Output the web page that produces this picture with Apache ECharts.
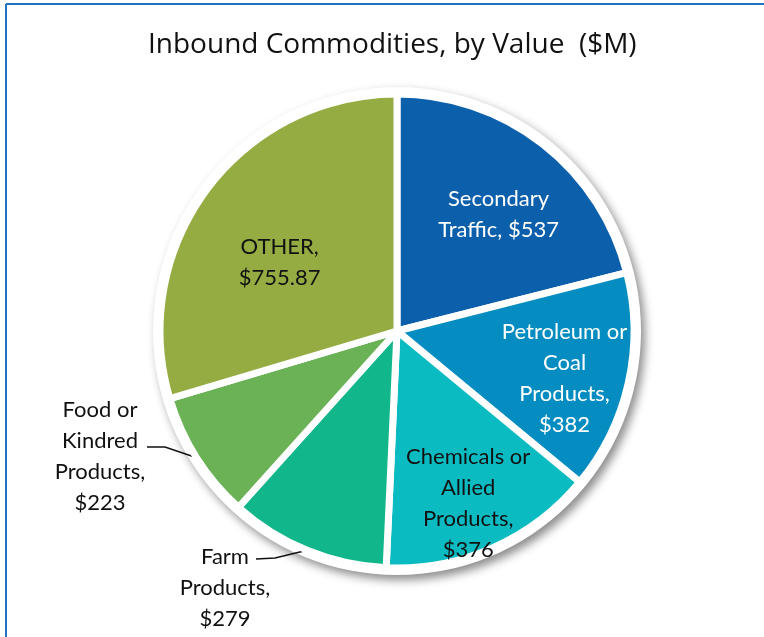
<!DOCTYPE html>
<html>
<head>
<meta charset="utf-8">
<script src="https://cdn.jsdelivr.net/npm/echarts@6/dist/echarts.min.js"></script>
<style>
  html, body { margin: 0; padding: 0; background: #fff; }
  #main { width: 764px; height: 637px; }
</style>
</head>
<body>
<div id="main"></div>
<script>
// commodity names (with the line breaks used in the labels) and values in $M
const categories = ['Secondary\nTraffic', 'Petroleum or\nCoal\nProducts', 'Chemicals or\nAllied\nProducts', 'Farm\nProducts', 'Food or\nKindred\nProducts', 'OTHER'];
const values = [537, 382, 376, 279, 223, 755.87];
const colors = ['#0C5FAB', '#058DC1', '#0ABCC2', '#11B68A', '#6BB257', '#95AC43'];

const total = values.reduce((a, b) => a + b, 0);
const center = [397, 331];
const font = 'Lato, "Open Sans", sans-serif';

// how each slice label is shown
const labelCfg = [
  { color: '#fff', sep: ' ', offset: [27, -21] },
  { color: '#fff', sep: '\n', offset: [49, 21] },
  { color: '#111', sep: '\n', offset: [22, 61] },
  { color: '#111', sep: '\n', outside: true },
  { color: '#111', sep: '\n', outside: true },
  { color: '#111', sep: '\n', offset: [-20, 4] }
];

const chart = echarts.init(document.getElementById('main'));

const data = values.map((v, i) => {
  const c = labelCfg[i];
  const item = {
    name: categories[i],
    value: v,
    itemStyle: { color: colors[i] },
    label: {
      position: c.outside ? 'outside' : 'inside',
      color: c.color
    },
    labelLine: { show: !!c.outside, lineStyle: { color: '#111', width: 1.5 }, length: 10, length2: 20 }
  };
  if (c.offset) item.label.offset = c.offset;
  return item;
});

chart.setOption({
  backgroundColor: '#fff',
  animation: false,
  title: {
    text: 'Inbound Commodities, by Value  ($M)',
    left: 148,
    top: 31,
    padding: 0,
    textStyle: { fontFamily: '"Open Sans", sans-serif', fontSize: 28, fontWeight: 'normal', color: '#111' }
  },
  graphic: [
    { type: 'line', shape: { x1: 6, y1: 4, x2: 764, y2: 4 }, style: { stroke: '#1F73C0', lineWidth: 2 } },
    { type: 'line', shape: { x1: 6, y1: 4, x2: 6, y2: 637 }, style: { stroke: '#1F73C0', lineWidth: 2 } }
  ],
  series: [
    {
      // white rim with soft shadow behind the slices
      type: 'pie',
      silent: true,
      center: center,
      radius: 244,
      startAngle: 90,
      z: 1,
      label: { show: false },
      labelLine: { show: false },
      itemStyle: { color: '#fff', shadowBlur: 10, shadowOffsetX: 4, shadowOffsetY: 5, shadowColor: 'rgba(0,0,0,0.45)' },
      data: [{ value: total }]
    },
    {
      type: 'pie',
      center: center,
      radius: 237,
      startAngle: 90,
      clockwise: true,
      z: 2,
      avoidLabelOverlap: false,
      itemStyle: { borderColor: '#fff', borderWidth: 7 },
      label: {
        fontFamily: font,
        fontSize: 22,
        lineHeight: 31,
        align: 'center',
        formatter: p => p.name + ',' + labelCfg[p.dataIndex].sep + '$' + p.value
      },
      labelLayout: function (p) {
        if (p.dataIndex === 4) {
          const s = p.labelLinePoints ? p.labelLinePoints[0] : [192, 460];
          return { x: 100, y: 456, align: 'center', verticalAlign: 'middle',
            labelLinePoints: [s, [165, 447], [147, 447]] };
        }
        if (p.dataIndex === 3) {
          const s = p.labelLinePoints ? p.labelLinePoints[0] : [300, 557];
          return { x: 225, y: 588, align: 'center', verticalAlign: 'middle',
            labelLinePoints: [s, [275, 558], [256, 559]] };
        }
      },
      data: data
    }
  ]
});
</script>
</body>
</html>
